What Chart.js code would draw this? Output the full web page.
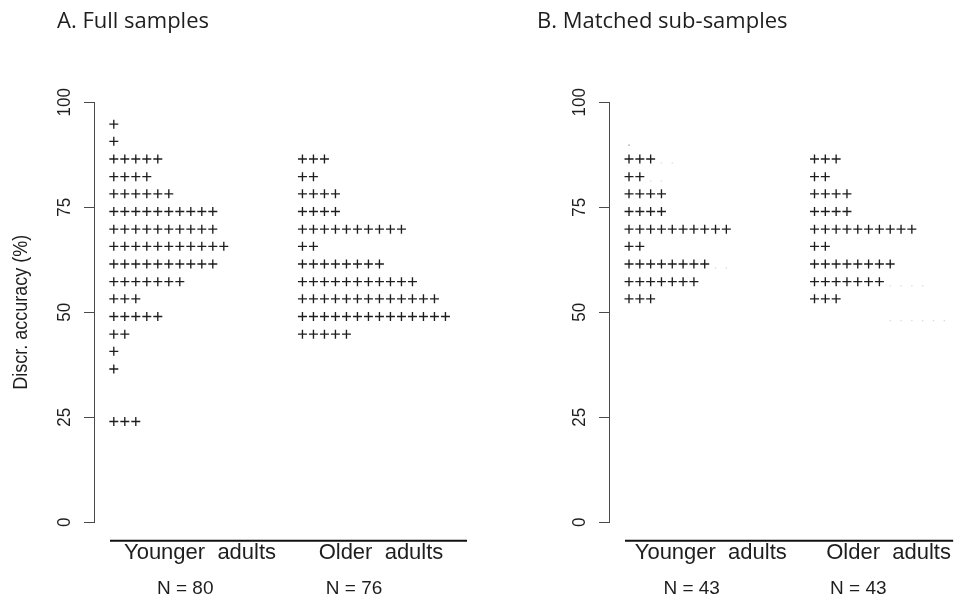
<!DOCTYPE html>
<html>
<head>
<meta charset="utf-8">
<script src="https://cdn.jsdelivr.net/npm/chart.js@4.4.1/dist/chart.umd.min.js"></script>
<style>
  html, body { margin: 0; padding: 0; background: #fff; }
  #wrap { position: relative; width: 959px; height: 606px; overflow: hidden; }
  canvas { position: absolute; top: 0; }
  #panelA { left: 0; }
  #panelB { left: 480px; }
</style>
</head>
<body>
<div id="wrap">
  <canvas id="panelA" width="480" height="606"></canvas>
  <canvas id="panelB" width="479" height="606"></canvas>
</div>
<script>
// accuracy bins (%), top row first
const bins = [94.8, 90.7, 86.5, 82.3, 78.2, 74.0, 69.8, 65.7, 61.5, 57.3, 53.2, 49.0, 44.8, 40.7, 36.5, 24.0];

// number of "+" per bin
const youngFull = [1, 1, 5, 4, 6, 10, 10, 11, 10, 7, 3, 5, 2, 1, 1, 3];
const olderFull = [0, 0, 3, 2, 4, 4, 10, 2, 8, 11, 13, 14, 5, 0, 0, 0];
const youngMatched = [0, 0, 3, 2, 4, 4, 10, 2, 8, 7, 3, 0, 0, 0, 0, 0];
const olderMatched = [0, 0, 3, 2, 4, 4, 10, 2, 8, 7, 3, 0, 0, 0, 0, 0];

// faint leftovers in panel B: [accuracy, first column, how many]
const youngGhostDark = [[89.8, 0, 1]];
const youngGhostLight = [[85.5, 3, 2], [81.3, 2, 2], [60.5, 8, 2]];
const olderGhostLight = [[56.3, 7, 4], [48.0, 7, 6]];

const groups = ['Younger  adults', 'Older  adults'];
const yTicks = [0, 25, 50, 75, 100];
const titles = ['A. Full samples', 'B. Matched sub-samples'];
const nLabels = [['N = 80', 'N = 76'], ['N = 43', 'N = 43']];

const GROUP_SHIFT = 17.15; // columns between the two stacks
const INK = '#1e1e1e';

function stack(counts, shift) {
  const pts = [];
  bins.forEach((y, r) => {
    for (let i = 0; i < counts[r]; i++) pts.push({ x: shift + i, y });
  });
  return pts;
}

function ghosts(list, shift) {
  const pts = [];
  list.forEach(([y, from, n]) => {
    for (let i = 0; i < n; i++) pts.push({ x: shift + from + i, y });
  });
  return pts;
}

function plusSet(data) {
  return {
    data,
    pointStyle: 'cross',
    pointRadius: 4.5,
    pointBorderWidth: 1.35,
    pointBorderColor: INK,
    pointBackgroundColor: INK,
    showLine: false
  };
}

function dotSet(data, color) {
  return {
    data,
    pointStyle: 'rect',
    pointRadius: 0.9,
    pointBorderWidth: 0,
    pointBackgroundColor: color,
    showLine: false
  };
}

// R-style text, the rotated labels are a bit wider than tall in the source
const textPlugin = {
  id: 'rText',
  afterDraw(chart, args, o) {
    const { ctx, chartArea: a } = chart;
    const ys = chart.scales.y, xs = chart.scales.x;
    ctx.save();
    ctx.fillStyle = INK;

    ctx.font = '22px "Open Sans"';
    ctx.textAlign = 'left';
    ctx.textBaseline = 'alphabetic';
    ctx.fillText(o.title, 57, 28);

    ctx.font = '17px "Liberation Sans"';
    ctx.textAlign = 'center';
    ctx.textBaseline = 'middle';
    yTicks.forEach(v => {
      ctx.save();
      ctx.translate(a.left - 29, ys.getPixelForValue(v));
      ctx.rotate(-Math.PI / 2);
      ctx.scale(1, 1.12);
      ctx.fillText(String(v), 0, 0);
      ctx.restore();
    });

    if (o.yTitle) {
      ctx.save();
      ctx.font = '18px "Liberation Sans"';
      ctx.translate(22, (a.top + a.bottom) / 2);
      ctx.rotate(-Math.PI / 2);
      ctx.scale(1, 1.1);
      ctx.fillText(o.yTitle, 0, 0);
      ctx.restore();
    }

    // baseline under the stacks
    ctx.strokeStyle = '#111';
    ctx.lineWidth = 2;
    ctx.beginPath();
    ctx.moveTo(a.left + 16, a.bottom + 18.5);
    ctx.lineTo(a.right, a.bottom + 18.5);
    ctx.stroke();

    ctx.textBaseline = 'alphabetic';
    ctx.textAlign = 'center';
    groups.forEach((g, k) => {
      ctx.font = '22px "Liberation Sans"';
      ctx.fillText(g, xs.getPixelForValue(o.labelAt[k][0]), 559);
      ctx.font = '19px "Liberation Sans"';
      ctx.fillText(o.n[k], xs.getPixelForValue(o.labelAt[k][1]), 594);
    });
    ctx.restore();
  }
};

function makePanel(id, cfg) {
  return new Chart(document.getElementById(id), {
    type: 'scatter',
    data: { datasets: cfg.datasets },
    options: {
      responsive: false,
      animation: false,
      devicePixelRatio: 1,
      layout: { padding: { top: 102.3, bottom: 606 - 522.3, left: 0, right: cfg.padRight } },
      plugins: {
        legend: { display: false },
        tooltip: { enabled: false },
        rText: { title: cfg.title, yTitle: cfg.yTitle, n: cfg.n, labelAt: cfg.labelAt }
      },
      scales: {
        x: { type: 'linear', display: false, min: cfg.xMin, max: cfg.xMax },
        y: {
          type: 'linear',
          min: 0,
          max: 100,
          afterBuildTicks: s => { s.ticks = yTicks.map(v => ({ value: v })); },
          afterFit: s => { s.width = cfg.axisX; },
          ticks: { display: false },
          grid: { drawOnChartArea: false, drawTicks: true, tickLength: 10, color: '#4a4a4a', lineWidth: 1 },
          border: { display: true, color: '#4a4a4a', width: 1 }
        }
      }
    },
    plugins: [textPlugin]
  });
}

makePanel('panelA', {
  title: titles[0],
  yTitle: 'Discr. accuracy (%)',
  n: nLabels[0],
  axisX: 94,
  padRight: 480 - 467,
  xMin: -1.8,
  xMax: -1.8 + (467 - 94) / 11,
  labelAt: [[7.84, 6.49], [GROUP_SHIFT + 7.14, GROUP_SHIFT + 4.69]],
  datasets: [
    plusSet(stack(youngFull, 0)),
    plusSet(stack(olderFull, GROUP_SHIFT))
  ]
});

makePanel('panelB', {
  title: titles[1],
  yTitle: null,
  n: nLabels[1],
  axisX: 129,
  padRight: 0,
  xMin: -1.85,
  xMax: -1.85 + (479 - 129) / 11,
  labelAt: [[7.56, 5.79], [GROUP_SHIFT + 6.85, GROUP_SHIFT + 4.05]],
  datasets: [
    dotSet(ghosts(youngGhostDark, 0), '#8a8a8a'),
    dotSet(ghosts(youngGhostLight, 0), '#d8d8d8'),
    dotSet(ghosts(olderGhostLight, GROUP_SHIFT), '#d8d8d8'),
    plusSet(stack(youngMatched, 0)),
    plusSet(stack(olderMatched, GROUP_SHIFT))
  ]
});
</script>
</body>
</html>
